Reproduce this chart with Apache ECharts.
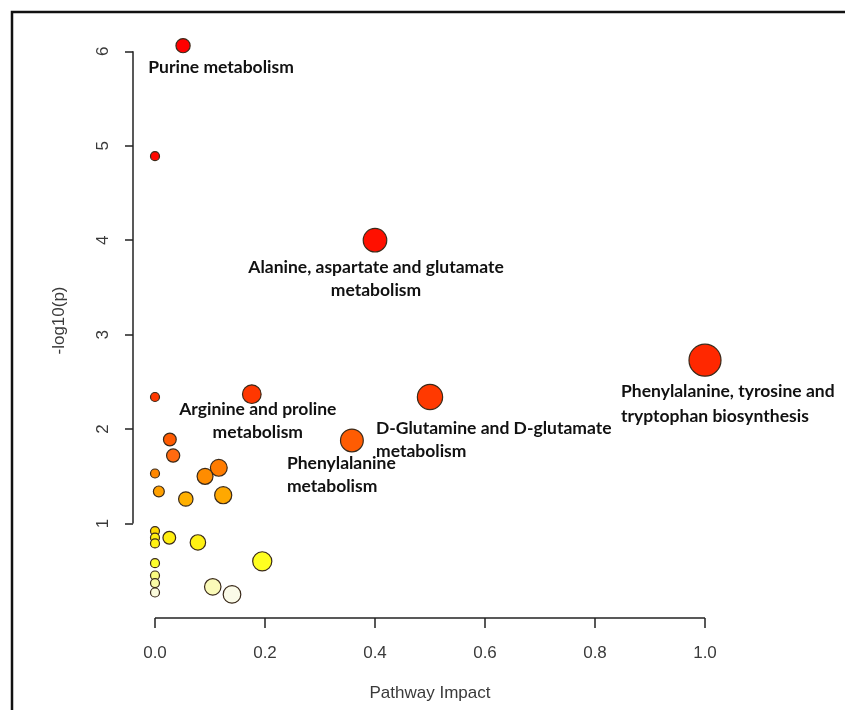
<!DOCTYPE html>
<html>
<head>
<meta charset="utf-8">
<script src="https://cdn.jsdelivr.net/npm/echarts@6/dist/echarts.min.js"></script>
<style>
  html, body { margin: 0; padding: 0; background: #fff; }
  #chart { width: 845px; height: 710px; }
</style>
</head>
<body>
<div id="chart"></div>
<script>
// pathway impact (x) and -log10(p) (y)
const impact = [0.051, 0, 0.40, 1.0, 0, 0.176, 0.50, 0.358, 0.027, 0.033, 0, 0.116, 0.091, 0.007,
  0.056, 0.124, 0, 0, 0, 0.026, 0.078, 0.195, 0, 0, 0, 0, 0.105, 0.14];
const logp = [6.06, 4.89, 4.00, 2.73, 2.34, 2.37, 2.34, 1.88, 1.89, 1.72, 1.53, 1.59, 1.50, 1.34,
  1.26, 1.30, 0.92, 0.85, 0.79, 0.85, 0.80, 0.60, 0.58, 0.45, 0.37, 0.27, 0.33, 0.25];
const names = ['Purine metabolism', '', 'Alanine, aspartate and glutamate\nmetabolism',
  'Phenylalanine, tyrosine and\ntryptophan biosynthesis', '', 'Arginine and proline\nmetabolism',
  'D-Glutamine and D-glutamate\nmetabolism', 'Phenylalanine\nmetabolism'];
const xTicks = [0, 0.2, 0.4, 0.6, 0.8, 1.0];
const yTicks = [1, 2, 3, 4, 5, 6];

// where each label sits relative to its point
const labelPlace = {
  'Purine metabolism': { align: 'center', offset: [38, 22] },
  'Alanine, aspartate and glutamate\nmetabolism': { align: 'center', offset: [1, 39] },
  'Phenylalanine, tyrosine and\ntryptophan biosynthesis': { align: 'left', offset: [-84, 44], lineHeight: 25 },
  'Arginine and proline\nmetabolism': { align: 'center', offset: [6, 27] },
  'D-Glutamine and D-glutamate\nmetabolism': { align: 'left', offset: [-54, 43] },
  'Phenylalanine\nmetabolism': { align: 'left', offset: [-65, 34] }
};

// heat colour ramp by -log10(p)
const heatStops = [
  [0.25, [251, 251, 232]], [0.33, [250, 250, 184]], [0.45, [250, 250, 128]], [0.6, [255, 255, 32]],
  [0.85, [255, 238, 16]], [0.92, [255, 216, 0]], [1.26, [255, 176, 0]], [1.34, [255, 160, 0]],
  [1.5, [255, 140, 0]], [1.6, [255, 122, 0]], [1.72, [255, 106, 16]], [1.9, [255, 90, 0]],
  [2.35, [255, 56, 0]], [2.73, [255, 40, 0]], [4, [255, 16, 0]], [6, [255, 0, 0]]
];
function heat(v) {
  if (v <= heatStops[0][0]) return 'rgb(' + heatStops[0][1].join(',') + ')';
  for (let i = 1; i < heatStops.length; i++) {
    if (v <= heatStops[i][0]) {
      const a = heatStops[i - 1], b = heatStops[i];
      const t = (v - a[0]) / (b[0] - a[0]);
      const c = a[1].map((x, k) => Math.round(x + (b[1][k] - x) * t));
      return 'rgb(' + c.join(',') + ')';
    }
  }
  return 'rgb(255,0,0)';
}

const points = impact.map((x, i) => {
  const item = { value: [x, logp[i]], name: names[i] || '' };
  const place = labelPlace[names[i]];
  if (place) {
    item.label = {
      show: true,
      formatter: names[i],
      position: 'inside',
      align: place.align,
      verticalAlign: 'middle',
      offset: place.offset,
      lineHeight: place.lineHeight || 23
    };
  }
  return item;
});

const chart = echarts.init(document.getElementById('chart'));
const axisText = { fontFamily: 'Liberation Sans', fontSize: 17, color: '#3a3a3a' };

chart.setOption({
  animation: false,
  backgroundColor: '#fff',
  graphic: [{
    type: 'rect',
    shape: { x: 12, y: 12, width: 1000, height: 1000 },
    style: { fill: 'none', stroke: '#111', lineWidth: 2.5 },
    silent: true
  }],
  grid: { left: 133, top: 23, width: 594, height: 595 },
  xAxis: {
    type: 'value',
    min: -0.04,
    max: 1.04,
    name: 'Pathway Impact',
    nameLocation: 'middle',
    nameGap: 67,
    nameTextStyle: axisText,
    axisLine: { show: false, onZero: false },
    splitLine: { show: false },
    axisTick: { show: true, length: 10, customValues: xTicks, lineStyle: { color: '#222', width: 1.5 } },
    axisLabel: { show: true, margin: 27, customValues: xTicks, formatter: v => v.toFixed(1), ...axisText }
  },
  yAxis: {
    type: 'value',
    min: 0,
    max: 6.3,
    name: '-log10(p)',
    nameLocation: 'middle',
    nameGap: 65,
    nameTextStyle: axisText,
    axisLine: { show: false, onZero: false },
    splitLine: { show: false },
    axisTick: { show: true, length: 8, customValues: yTicks, lineStyle: { color: '#222', width: 1.5 } },
    axisLabel: { show: true, margin: 21, rotate: 90, customValues: yTicks, ...axisText }
  },
  series: [{
    type: 'scatter',
    clip: false,
    data: points,
    symbolSize: d => 2 * (4.5 + 11.5 * Math.sqrt(d[0])),
    itemStyle: {
      color: p => heat(p.value[1]),
      borderColor: '#3a2a1a',
      borderWidth: 1.2,
      opacity: 1
    },
    label: {
      fontFamily: 'Lato',
      fontWeight: 'bold',
      fontSize: 17.5,
      color: '#111'
    },
    emphasis: { disabled: true },
    markLine: {
      silent: true,
      symbol: 'none',
      label: { show: false },
      lineStyle: { color: '#222', width: 1.5, type: 'solid' },
      data: [
        [{ coord: [xTicks[0], 0] }, { coord: [xTicks[xTicks.length - 1], 0] }],
        [{ coord: [-0.04, yTicks[0]] }, { coord: [-0.04, yTicks[yTicks.length - 1]] }]
      ]
    }
  }]
});
window.addEventListener('resize', () => chart.resize());
</script>
</body>
</html>
